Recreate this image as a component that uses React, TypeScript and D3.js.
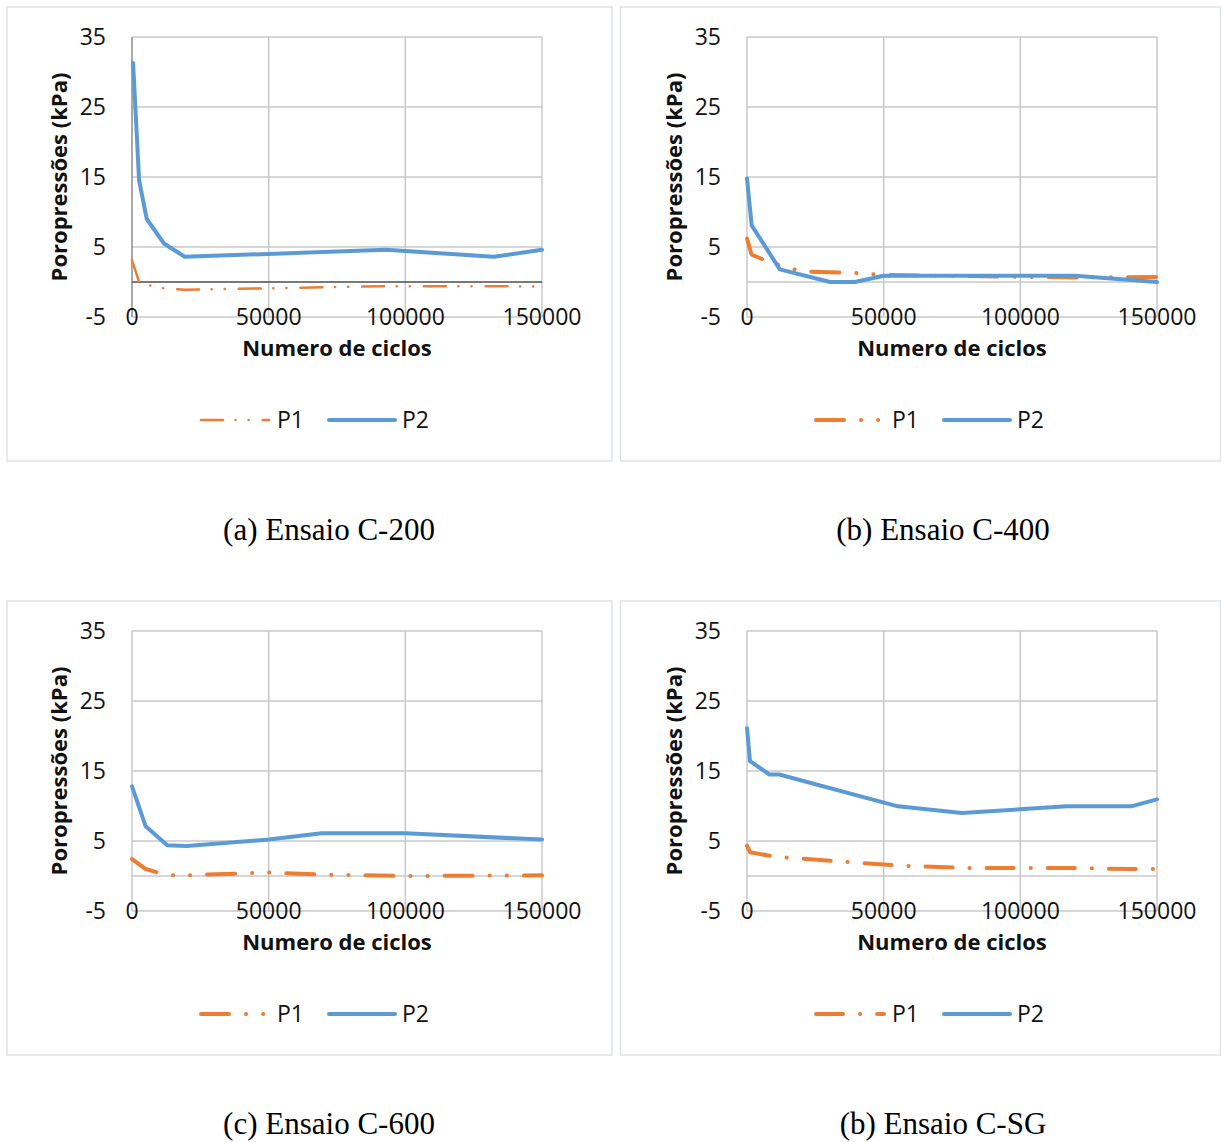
import React from "react";
import * as d3 from "d3";

// ---- tick values / labels ----
const xTicks = [0, 50000, 100000, 150000];
const yTicks = [-5, 5, 15, 25, 35];
const seriesNames = ["P1", "P2"];
const xTitle = "Numero de ciclos";
const yTitle = "Poropressões (kPa)";
const captions = ["(a) Ensaio C-200", "(b) Ensaio C-400", "(c) Ensaio C-600", "(b) Ensaio C-SG"];

// ---- C-200 ----
const c200P1Cycles = [0, 2600, 5400, 11700, 19300, 93000, 132000, 150000];
const c200P1 = [3.1, 0, -0.4, -0.9, -1.1, -0.6, -0.6, -0.65];
const c200P2Cycles = [400, 2600, 5400, 11700, 19300, 93000, 132400, 150000];
const c200P2 = [31.3, 14.5, 9.0, 5.5, 3.6, 4.6, 3.6, 4.6];

// ---- C-400 ----
const c400P1Cycles = [0, 1700, 6000, 12000, 20000, 39500, 50000, 120000, 150000];
const c400P1 = [6.2, 3.9, 3.2, 2.4, 1.5, 1.3, 1.0, 0.65, 0.7];
const c400P2Cycles = [0, 1700, 12000, 30400, 39500, 50000, 120000, 150000];
const c400P2 = [14.8, 8.1, 1.8, 0, 0, 0.9, 0.9, 0];

// ---- C-600 ----
const c600P1Cycles = [0, 5000, 9300, 12900, 20000, 50000, 69400, 100000, 150000];
const c600P1 = [2.4, 1.0, 0.5, 0.1, 0.1, 0.5, 0.2, 0.0, 0.1];
const c600P2Cycles = [0, 5000, 12900, 20000, 50000, 69400, 100000, 150000];
const c600P2 = [12.8, 7.1, 4.4, 4.3, 5.2, 6.1, 6.1, 5.2];

// ---- C-SG ----
const cSGP1Cycles = [0, 1100, 8200, 11800, 55200, 78600, 117000, 140500, 150000];
const cSGP1 = [4.3, 3.4, 2.9, 2.7, 1.5, 1.15, 1.15, 1.0, 1.0];
const cSGP2Cycles = [0, 1100, 8200, 11800, 55200, 78600, 117000, 140500, 150000];
const cSGP2 = [21.1, 16.4, 14.5, 14.5, 9.95, 9.0, 9.95, 9.95, 10.95];

const ORANGE = "#ED7D31";
const BLUE = "#5B9BD5";
const GRID = "#c8c8c8";
const FONT = "'Open Sans', 'Liberation Sans', sans-serif";

type PanelCfg = {
  plotX: number;
  plotY: number;
  frame: [number, number, number, number];
  caption: string;
  capX: number;
  p1: [number[], number[]];
  p2: [number[], number[]];
  p1Width: number;
  p1Dash: string;
  darkAxes: boolean;
};

const PW = 410;
const PH = 280;

const panels: PanelCfg[] = [
  {
    plotX: 132, plotY: 37, frame: [7, 7, 612, 461], caption: captions[0], capX: 329,
    p1: [c200P1Cycles, c200P1], p2: [c200P2Cycles, c200P2],
    p1Width: 2.5, p1Dash: "22 12.5 0.1 13 0.1 14", darkAxes: true,
  },
  {
    plotX: 747, plotY: 37, frame: [620.5, 7, 1220.5, 461], caption: captions[1], capX: 943,
    p1: [c400P1Cycles, c400P1], p2: [c400P2Cycles, c400P2],
    p1Width: 4, p1Dash: "28 17 0.1 17 0.1 17", darkAxes: false,
  },
  {
    plotX: 132, plotY: 631, frame: [7, 601, 612, 1055], caption: captions[2], capX: 329,
    p1: [c600P1Cycles, c600P1], p2: [c600P2Cycles, c600P2],
    p1Width: 4, p1Dash: "28 17 0.1 17 0.1 17", darkAxes: false,
  },
  {
    plotX: 747, plotY: 631, frame: [620.5, 601, 1220.5, 1055], caption: captions[3], capX: 943,
    p1: [cSGP1Cycles, cSGP1], p2: [cSGP2Cycles, cSGP2],
    p1Width: 4, p1Dash: "27 17 0.1 17", darkAxes: false,
  },
];

function Panel({ cfg }: { cfg: PanelCfg }) {
  const x = d3.scaleLinear().domain([0, 150000]).range([cfg.plotX, cfg.plotX + PW]);
  const y = d3.scaleLinear().domain([-5, 35]).range([cfg.plotY + PH, cfg.plotY]);
  const line = d3
    .line<[number, number]>()
    .x((d) => x(d[0]))
    .y((d) => y(d[1]));
  const toPts = (s: [number[], number[]]) => s[0].map((c, i) => [c, s[1][i]] as [number, number]);
  const [fx0, fy0, fx1, fy1] = cfg.frame;
  const cx = cfg.plotX + PW / 2;
  const legY = cfg.plotY + 383;
  return (
    <g>
      <rect x={fx0} y={fy0} width={fx1 - fx0} height={fy1 - fy0} fill="white" stroke="#d9dce0" strokeWidth={1.2} />
      {/* horizontal grid */}
      {yTicks.map((t) => (
        <line key={"h" + t} x1={x(0)} x2={x(150000)} y1={y(t)} y2={y(t)} stroke={GRID} strokeWidth={1.5} />
      ))}
      {/* vertical grid */}
      {xTicks.map((t) => (
        <line
          key={"v" + t}
          x1={x(t)}
          x2={x(t)}
          y1={y(35)}
          y2={y(-5)}
          stroke={t === 0 && cfg.darkAxes ? "#8c8c8c" : GRID}
          strokeWidth={1.5}
        />
      ))}
      {/* zero axis */}
      <line x1={x(0)} x2={x(150000)} y1={y(0)} y2={y(0)} stroke={cfg.darkAxes ? "#4d4d4d" : GRID} strokeWidth={1.5} />
      {/* series */}
      <path
        d={line(toPts(cfg.p1)) || ""}
        fill="none"
        stroke={ORANGE}
        strokeWidth={cfg.p1Width}
        strokeDasharray={cfg.p1Dash}
        strokeLinecap="round"
        strokeLinejoin="round"
      />
      <path d={line(toPts(cfg.p2)) || ""} fill="none" stroke={BLUE} strokeWidth={4} strokeLinecap="round" strokeLinejoin="round" />
      {/* y tick labels */}
      {yTicks.map((t) => (
        <text key={"yl" + t} x={cfg.plotX - 26} y={y(t) + 8} textAnchor="end" fontFamily={FONT} fontSize={23} fill="#111">
          {t}
        </text>
      ))}
      {/* x tick labels */}
      {xTicks.map((t) => (
        <text key={"xl" + t} x={x(t)} y={y(-5) + 8} textAnchor="middle" fontFamily={FONT} fontSize={23} fill="#111">
          {t}
        </text>
      ))}
      {/* axis titles */}
      <text x={cx} y={cfg.plotY + 319} textAnchor="middle" fontFamily={FONT} fontWeight="bold" fontSize={22} fill="#111">
        {xTitle}
      </text>
      <text
        transform={`translate(${cfg.plotX - 65},${cfg.plotY + PH / 2}) rotate(-90)`}
        textAnchor="middle"
        fontFamily={FONT}
        fontWeight="bold"
        fontSize={22}
        fill="#111"
      >
        {yTitle}
      </text>
      {/* legend */}
      <line
        x1={cx - 136}
        x2={cx - 68}
        y1={legY}
        y2={legY}
        stroke={ORANGE}
        strokeWidth={cfg.p1Width}
        strokeDasharray={cfg.p1Dash}
        strokeLinecap="round"
      />
      <text x={cx - 60} y={legY + 8} fontFamily={FONT} fontSize={23} fill="#111">
        {seriesNames[0]}
      </text>
      <line x1={cx - 8} x2={cx + 58} y1={legY} y2={legY} stroke={BLUE} strokeWidth={4} strokeLinecap="round" />
      <text x={cx + 65} y={legY + 8} fontFamily={FONT} fontSize={23} fill="#111">
        {seriesNames[1]}
      </text>
      {/* caption */}
      <text
        x={cfg.capX}
        y={cfg.plotY + 503}
        textAnchor="middle"
        fontFamily="'Liberation Serif', 'Times New Roman', serif"
        fontSize={31}
        fill="#000"
      >
        {cfg.caption}
      </text>
    </g>
  );
}

export default function App() {
  return (
    <svg
      width={1221}
      height={1142}
      style={{ position: "absolute", left: 0, top: 0, background: "white" }}
    >
      <rect x={0} y={0} width={1221} height={1142} fill="white" />
      {panels.map((p, i) => (
        <Panel key={i} cfg={p} />
      ))}
    </svg>
  );
}
